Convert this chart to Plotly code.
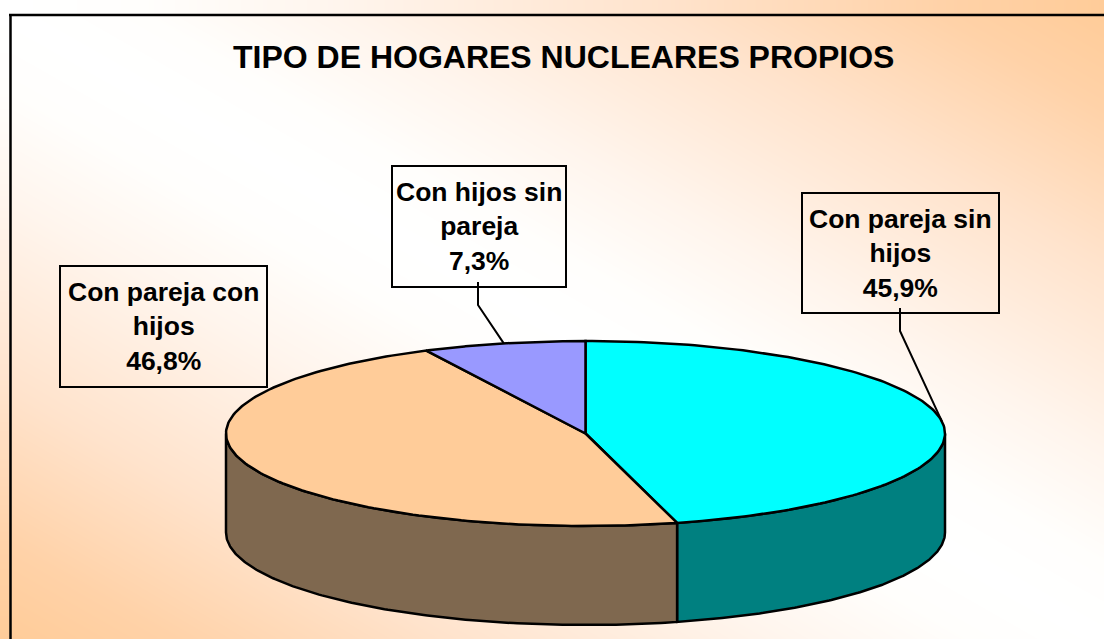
import numpy as np
import plotly.graph_objects as go

title = "TIPO DE HOGARES NUCLEARES PROPIOS"
labels = ["Con pareja sin<br>hijos", "Con pareja con<br>hijos", "Con hijos sin<br>pareja"]
values = [45.9, 46.8, 7.3]
topColors = ["#00FFFF", "#FFCC99", "#9999FF"]
sideColors = ["#008080", "#7F684F", "#4D4D80"]

# pie geometry in page pixels
cx, cy = 585.5, 433.5
rx, ry = 359.5, 92.5
depth = 99

# label boxes: x0, y0, x1, y1 and the bend of the leader (None = no leader)
boxes = [(802, 193, 999, 313), (60, 266, 267, 387), (392, 166, 566, 287)]
leaders = [(900, 308, 331), None, (478, 282, 305)]

# background ramp from the white diagonal out to the corners
rampStops = [0, 0.12, 0.3, 0.6, 0.85, 1]
rampColors = ["#FFFFFF", "#FFFEFC", "#FFF5ED", "#FFE3CC", "#FFD2A8", "#FFCC99"]


def rim(a0, a1, n=160):
    # angles are degrees clockwise from 12 o'clock
    t = np.radians(np.linspace(a0, a1, n))
    return cx + rx * np.sin(t), cy - ry * np.cos(t)


fig = go.Figure()

# background gradient, white along the top-left / bottom-right diagonal
scale = [[0.5 - s / 2, c] for s, c in zip(rampStops[::-1], rampColors[::-1])]
scale += [[0.5 + s / 2, c] for s, c in zip(rampStops[1:], rampColors[1:])]
fig.add_trace(go.Heatmap(
    x=[11, 1104], y=[15, 639], z=[[0, 1], [-1, 0]],
    zmin=-1, zmax=1, zsmooth="best", showscale=False, hoverinfo="skip",
    colorscale=scale,
))

edges = np.cumsum([0] + values) * 3.6

# walls, only the front half of the rim shows
for i in range(len(values)):
    a0 = max(edges[i], 90)
    a1 = min(edges[i + 1], 270)
    if a0 >= a1:
        continue
    x, y = rim(a0, a1)
    fig.add_trace(go.Scatter(
        x=np.concatenate([x, x[::-1], x[:1]]),
        y=np.concatenate([y, y[::-1] + depth, y[:1]]),
        mode="lines", fill="toself", fillcolor=sideColors[i],
        line=dict(color="black", width=2.5), hoverinfo="skip", showlegend=False,
    ))

# top face
for i in range(len(values)):
    x, y = rim(edges[i], edges[i + 1])
    fig.add_trace(go.Scatter(
        x=np.concatenate([[cx], x, [cx]]),
        y=np.concatenate([[cy], y, [cy]]),
        mode="lines", fill="toself", fillcolor=topColors[i],
        line=dict(color="black", width=2.5), hoverinfo="skip", showlegend=False,
    ))

# boxes, text and leaders
for i in range(len(values)):
    x0, y0, x1, y1 = boxes[i]
    fig.add_shape(type="rect", x0=x0, y0=y0, x1=x1, y1=y1, line=dict(color="black", width=2))
    text = "<b>" + labels[i] + "<br>" + f"{values[i]:.1f}%".replace(".", ",") + "</b>"
    fig.add_annotation(
        x=(x0 + x1) / 2, y=(y0 + y1) / 2, text=text, showarrow=False,
        font=dict(family="Liberation Sans", size=26.5, color="black"),
        align="center", xanchor="center", yanchor="middle",
    )
    if leaders[i]:
        lx, ly0, ly1 = leaders[i]
        ex, ey = rim((edges[i] + edges[i + 1]) / 2, (edges[i] + edges[i + 1]) / 2, 1)
        fig.add_trace(go.Scatter(
            x=[lx, lx, ex[0]], y=[ly0, ly1, ey[0]], mode="lines",
            line=dict(color="black", width=2), hoverinfo="skip", showlegend=False,
        ))

fig.add_annotation(
    x=563, y=57, text="<b>" + title + "</b>", showarrow=False,
    font=dict(family="Liberation Sans", size=32, color="black"),
    xanchor="center", yanchor="middle",
)

# chart frame, its right and bottom sides fall outside the page
fig.add_shape(type="line", x0=10.5, y0=15, x1=10.5, y1=639, line=dict(color="black", width=2.5))
fig.add_shape(type="line", x0=9, y0=15, x1=1104, y1=15, line=dict(color="black", width=2.5))

fig.update_xaxes(range=[0, 1104], visible=False, fixedrange=True)
fig.update_yaxes(range=[639, 0], visible=False, fixedrange=True)
fig.update_layout(
    width=1104, height=639, margin=dict(l=0, r=0, t=0, b=0),
    paper_bgcolor="white", plot_bgcolor="white", showlegend=False,
)

fig.write_html(
    "out.html", config=dict(displayModeBar=False),
    post_script="document.body.style.margin='0';document.body.style.overflow='hidden';",
)
